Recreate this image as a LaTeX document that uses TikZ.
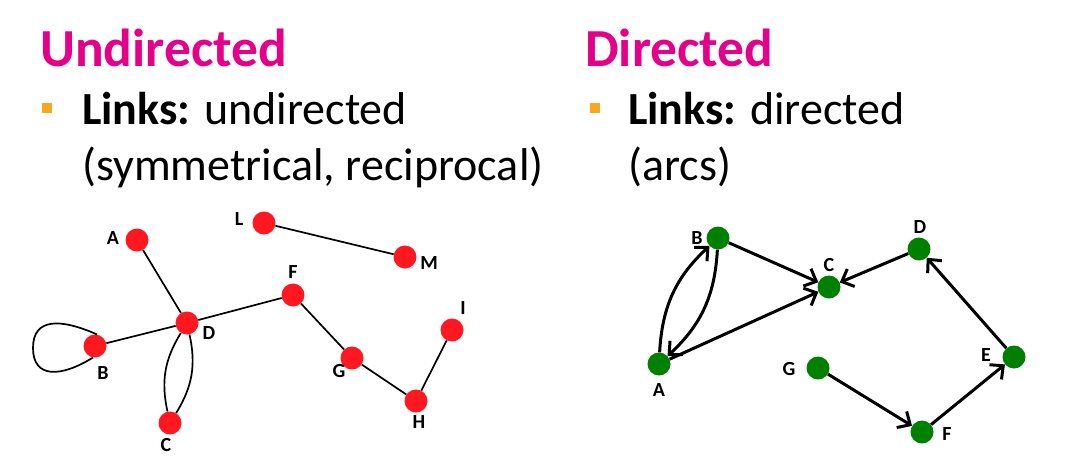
\documentclass[tikz,border=0pt]{standalone}
\usepackage{fontspec}
\setmainfont{Carlito}
\usetikzlibrary{arrows.meta}
\definecolor{magent}{RGB}{228,0,137}
\definecolor{bulletc}{RGB}{247,168,30}
\definecolor{nodered}{RGB}{255,24,32}
\definecolor{nodegreen}{RGB}{0,128,0}
\tikzset{
  title/.style={anchor=base west,inner sep=0pt,text=magent,font=\fontsize{53.5}{60}\selectfont\bfseries},
  body/.style={anchor=base west,inner sep=0pt,font=\fontsize{46}{52}\selectfont},
  bul/.style={fill=bulletc,draw=none,minimum size=10pt,inner sep=0pt},
  rnode/.style={circle,fill=nodered,minimum size=23pt,inner sep=0pt},
  gnode/.style={circle,fill=nodegreen,minimum size=23pt,inner sep=0pt},
  lab/.style={inner sep=0pt,font=\fontsize{20}{22}\selectfont\bfseries},
  uedge/.style={line width=1.7pt},
  dedge/.style={line width=3pt,-{Straight Barb[length=10pt,width=19pt,line width=3pt]}},
}
\begin{document}
\begin{tikzpicture}[x=1pt,y=-1pt]
\useasboundingbox (0,0) rectangle (1087,469);
% texts
\node[title] (t1) at (40,66) {Undirected};
\node[bul] (b1) at (47,108) {};
\node[body] (l1) at (82,124) {\textbf{Links:} undirected};
\node[body] (l2) at (82,180) {(symmetrical, reciprocal)};
\node[title] (t2) at (585,66) {Directed};
\node[bul] (b2) at (595,108) {};
\node[body] (r1) at (628,124) {\textbf{Links:} directed};
\node[body] (r2) at (628,180) {(arcs)};
% undirected graph
\node[rnode] (A) at (137,240) {};
\node[rnode] (L) at (264,223) {};
\node[rnode] (M) at (405,257) {};
\node[rnode] (F) at (293,295) {};
\node[rnode] (D) at (187,323) {};
\node[rnode] (B) at (95,346) {};
\node[rnode] (C) at (170,423) {};
\node[rnode] (G) at (352,358) {};
\node[rnode] (H) at (416,401) {};
\node[rnode] (I) at (452,330) {};
\node[lab] (lA) at (113,238) {A};
\node[lab] (lL) at (239,219) {L};
\node[lab] (lM) at (429,263) {M};
\node[lab] (lF) at (293,272) {F};
\node[lab] (lD) at (209,333) {D};
\node[lab] (lB) at (103,373) {B};
\node[lab] (lC) at (166,445) {C};
\node[lab] (lG) at (339,371) {G};
\node[lab] (lH) at (419,422) {H};
\node[lab] (lI) at (463,308) {I};
\draw[uedge] (A) -- (D);
\draw[uedge] (L) -- (M);
\draw[uedge] (D) -- (F);
\draw[uedge] (D) -- (B);
\draw[uedge] (F) -- (G);
\draw[uedge] (G) -- (H);
\draw[uedge] (H) -- (I);
\draw[uedge] (D) to[bend right=22] (C);
\draw[uedge] (D) to[bend left=22] (C);
\draw[uedge] (B.80) .. controls (60,318) and (33,318) .. (33,348)
  .. controls (33,378) and (60,378) .. (B.-100);
% directed graph
\node[gnode] (dA) at (659,364) {};
\node[gnode] (dB) at (718,238) {};
\node[gnode] (dC) at (829,287) {};
\node[gnode] (dD) at (919,249) {};
\node[gnode] (dE) at (1014,357) {};
\node[gnode] (dF) at (922,432) {};
\node[gnode] (dG) at (818,368) {};
\node[lab] (ldA) at (659,390) {A};
\node[lab] (ldB) at (697,238) {B};
\node[lab] (ldC) at (829,265) {C};
\node[lab] (ldD) at (920,227) {D};
\node[lab] (ldE) at (986,355) {E};
\node[lab] (ldF) at (947,434) {F};
\node[lab] (ldG) at (789,369) {G};
\draw[dedge] (dA) to[bend left=22] (dB);
\draw[dedge] (dB) to[bend left=22] (dA);
\draw[dedge] (dB) -- (dC);
\draw[dedge] (dA) -- (dC);
\draw[dedge] (dD) -- (dC);
\draw[dedge] (dE) -- (dD);
\draw[dedge] (dG) -- (dF);
\draw[dedge] (dF) -- (dE);
\end{tikzpicture}
\end{document}
